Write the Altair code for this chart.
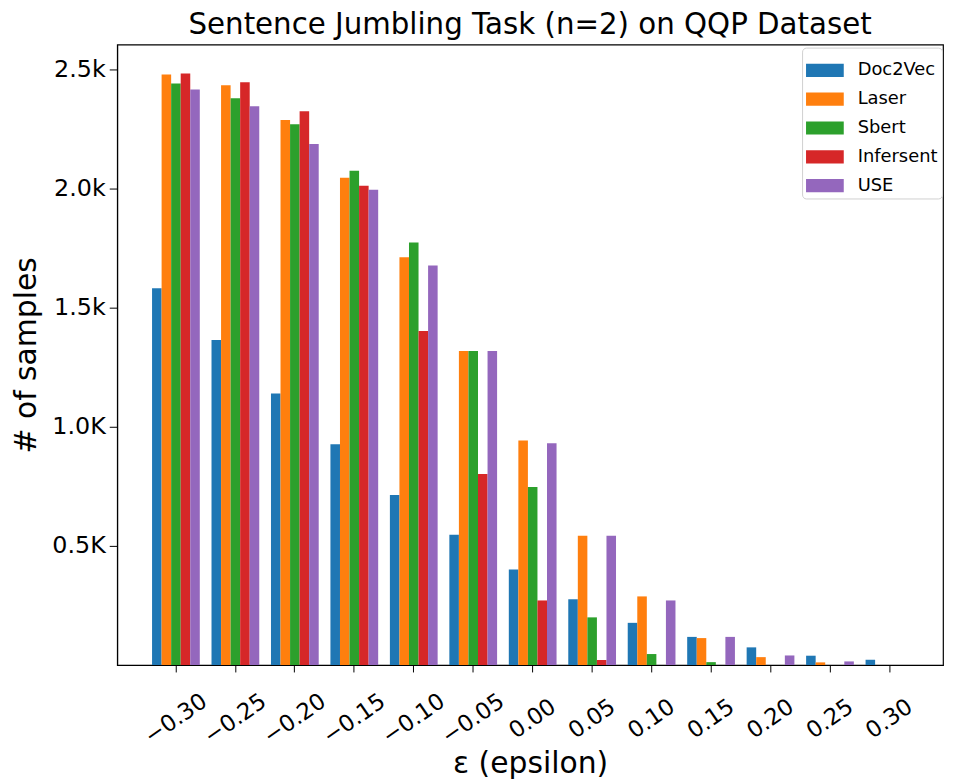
import altair as alt
import pandas as pd

eps_labels = ["−0.30", "−0.25", "−0.20", "−0.15", "−0.10", "−0.05", "0.00",
              "0.05", "0.10", "0.15", "0.20", "0.25", "0.30"]
series = ["Doc2Vec", "Laser", "Sbert", "Infersent", "USE"]
colors = ["#1f77b4", "#ff7f0e", "#2ca02c", "#d62728", "#9467bd"]

doc2vec = [1582, 1365, 1140, 927, 714, 547, 401, 276, 177, 118, 74, 39, 22]
laser = [2480, 2434, 2288, 2046, 1712, 1319, 943, 543, 288, 113, 33, 11, 0]
sbert = [2442, 2380, 2271, 2075, 1774, 1319, 747, 200, 46, 12, 0, 0, 0]
infersent = [2484, 2447, 2325, 2012, 1403, 802, 271, 21, 0, 0, 0, 0, 0]
use = [2417, 2346, 2188, 1996, 1678, 1319, 931, 543, 271, 118, 40, 15, 0]

values = [doc2vec, laser, sbert, infersent, use]
rows = []
for s, vals in zip(series, values):
    for e, v in zip(eps_labels, vals):
        rows.append({"eps": e, "model": s, "count": v})
df = pd.DataFrame(rows)

tick_values = [500, 1000, 1500, 2000, 2500]
tick_texts = ["0.5K", "1.0K", "1.5k", "2.0k", "2.5k"]
label_expr = " : ".join(
    f"datum.value == {v} ? '{t}'" for v, t in zip(tick_values, tick_texts)
) + " : ''"

FONT = "DejaVu Sans"

chart = alt.Chart(df).mark_bar().encode(
    x=alt.X(
        "eps:N",
        sort=eps_labels,
        scale=alt.Scale(paddingInner=0.197, paddingOuter=0.543, align=0.54),
        axis=alt.Axis(
            title="ε (epsilon)",
            titleFontSize=30,
            titleFont=FONT,
            titleFontWeight="normal",
            titleColor="black",
            titlePadding=0,
            labelAngle=-35,
            labelAlign="center",
            labelBaseline="middle",
            labelPadding=47,
            labelFontSize=23,
            labelFont=FONT,
            labelColor="black",
            tickSize=7,
            tickColor="black",
            domainColor="black",
            domain=True,
            grid=False,
            labelOverlap=False,
        ),
    ),
    xOffset=alt.XOffset("model:N", sort=series),
    y=alt.Y(
        "count:Q",
        scale=alt.Scale(domain=[0, 2605], nice=False),
        axis=alt.Axis(
            title="# of samples",
            titleFontSize=30,
            titleFont=FONT,
            titleFontWeight="normal",
            titleColor="black",
            titlePadding=10,
            values=tick_values,
            labelExpr=label_expr,
            labelFontSize=24,
            labelFont=FONT,
            labelColor="black",
            labelPadding=4,
            tickSize=8,
            tickColor="black",
            domainColor="black",
            grid=False,
        ),
    ),
    color=alt.Color(
        "model:N",
        sort=series,
        scale=alt.Scale(domain=series, range=colors),
        legend=alt.Legend(
            title=None,
            orient="none",
            legendX=690,
            legendY=3,
            padding=4,
            strokeColor="#d0d0d0",
            fillColor="white",
            cornerRadius=4,
            symbolType="M-1,-0.35H1V0.35H-1Z",
            symbolSize=1444,
            symbolStrokeWidth=0,
            symbolOpacity=1,
            labelFontSize=18,
            labelFont=FONT,
            labelColor="black",
            labelOffset=14,
            rowPadding=1,
        ),
    ),
).properties(
    width=832,
    height=625,
    title=alt.TitleParams(
        "Sentence Jumbling Task (n=2) on QQP Dataset",
        fontSize=29.5,
        font=FONT,
        fontWeight="normal",
        color="black",
        anchor="middle",
        offset=4,
    ),
    autosize=alt.AutoSizeParams(type="none"),
    padding={"left": 110, "top": 34, "right": 2, "bottom": 118},
).configure_view(
    stroke="black",
    strokeWidth=1.2,
)

chart.save("out.html", embed_options={"renderer": "svg", "actions": False})
